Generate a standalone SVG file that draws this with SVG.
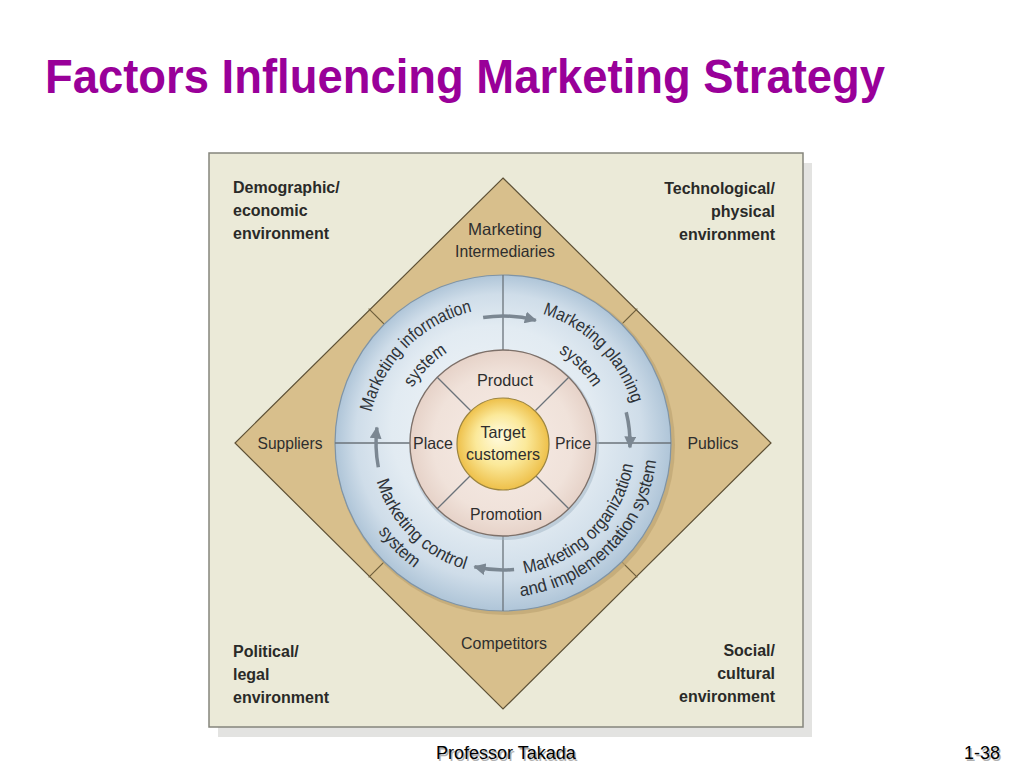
<svg xmlns="http://www.w3.org/2000/svg" width="1024" height="768" viewBox="0 0 1024 768">
<defs>
<style>
.t{font-family:"Liberation Sans",Arial,sans-serif;}
.env{font-family:"Liberation Sans",Arial,sans-serif;font-weight:bold;font-size:16px;fill:#2a2a28;}
.lbl{font-family:"Liberation Sans",Arial,sans-serif;font-size:16.5px;fill:#2e2e2e;}
.arc{font-family:"Liberation Sans",Arial,sans-serif;font-size:18px;fill:#2e3338;}
.div{stroke:#6b737a;stroke-width:1.3;fill:none;}
.tick{stroke:#6e5f3c;stroke-width:1.2;fill:none;}
.arr{stroke:#7b8792;stroke-width:3.5;fill:none;marker-end:url(#ah);}
</style>
<marker id="ah" markerUnits="userSpaceOnUse" markerWidth="14" markerHeight="12" refX="11" refY="6" orient="auto">
<path d="M0,0 L12,6 L0,12 Z" fill="#7b8792"/>
</marker>
<radialGradient id="gBlue" cx="50%" cy="50%" r="50%" fx="42%" fy="38%">
<stop offset="0%" stop-color="#eef3f7"/>
<stop offset="60%" stop-color="#e2ebf2"/>
<stop offset="85%" stop-color="#cfdde9"/>
<stop offset="100%" stop-color="#afc5d8"/>
</radialGradient>
<radialGradient id="gPink" cx="50%" cy="50%" r="50%">
<stop offset="0%" stop-color="#f7ece6"/>
<stop offset="75%" stop-color="#f0e2da"/>
<stop offset="100%" stop-color="#e6d2c8"/>
</radialGradient>
<radialGradient id="gYel" cx="50%" cy="50%" r="50%" fx="45%" fy="40%">
<stop offset="0%" stop-color="#fffbe0"/>
<stop offset="55%" stop-color="#fbe99a"/>
<stop offset="100%" stop-color="#eec04a"/>
</radialGradient>
<path id="pTL1" d="M416.22,546.41 A135,135 0 1 1 606.41,356.22"/>
<path id="pTL2" d="M434.86,524.20 A106,106 0 1 1 584.20,374.86"/>
<path id="pTR1" d="M399.59,356.22 A135,135 0 1 1 589.78,546.41"/>
<path id="pTR2" d="M421.80,374.86 A106,106 0 1 1 571.14,524.20"/>
<path id="pBR1" d="M401.89,527.85 A132,132 0 1 0 587.85,341.89"/>
<path id="pBR2" d="M385.04,541.99 A154,154 0 1 0 601.99,325.04"/>
<path id="pBL1" d="M418.15,341.89 A132,132 0 1 0 604.11,527.85"/>
<path id="pBL2" d="M404.65,325.80 A153,153 0 1 0 620.20,541.35"/>
</defs>

<rect width="1024" height="768" fill="#ffffff"/>

<text class="t" x="45" y="93" font-size="48" font-weight="bold" fill="#990099" textLength="840" lengthAdjust="spacingAndGlyphs">Factors Influencing Marketing Strategy</text>

<g id="frame">
<rect x="218" y="163" width="594" height="574" fill="#e3e3e1"/>
<rect x="209" y="153" width="594" height="574" fill="#ebead8" stroke="#85857c" stroke-width="1.5"/>
</g>

<g id="diamond">
<polygon points="503,178 771,443 503,709 235,443" fill="#d8bf8c" stroke="#5e5136" stroke-width="1.2"/>
<line class="tick" x1="621.8" y1="561.8" x2="637.35" y2="577.35"/>
<line class="tick" x1="384.2" y1="561.8" x2="368.65" y2="577.35"/>
<line class="tick" x1="384.2" y1="324.2" x2="368.65" y2="308.65"/>
<line class="tick" x1="621.8" y1="324.2" x2="637.35" y2="308.65"/>
</g>

<g id="env-demographic">
<text class="env" x="233" y="193">Demographic/</text>
<text class="env" x="233" y="216">economic</text>
<text class="env" x="233" y="239">environment</text>
</g>
<g id="env-technological">
<text class="env" x="775" y="194" text-anchor="end">Technological/</text>
<text class="env" x="775" y="217" text-anchor="end">physical</text>
<text class="env" x="775" y="240" text-anchor="end">environment</text>
</g>
<g id="env-political">
<text class="env" x="233" y="657">Political/</text>
<text class="env" x="233" y="680">legal</text>
<text class="env" x="233" y="703">environment</text>
</g>
<g id="env-social">
<text class="env" x="775" y="656" text-anchor="end">Social/</text>
<text class="env" x="775" y="679" text-anchor="end">cultural</text>
<text class="env" x="775" y="702" text-anchor="end">environment</text>
</g>

<g id="intermediaries">
<text class="lbl" x="505" y="235" text-anchor="middle" textLength="74" lengthAdjust="spacingAndGlyphs">Marketing</text>
<text class="lbl" x="505" y="257" text-anchor="middle" textLength="100" lengthAdjust="spacingAndGlyphs">Intermediaries</text>
</g>
<g id="suppliers"><text class="lbl" x="290" y="449" text-anchor="middle" textLength="65" lengthAdjust="spacingAndGlyphs">Suppliers</text></g>
<g id="publics"><text class="lbl" x="713" y="449" text-anchor="middle" textLength="51" lengthAdjust="spacingAndGlyphs">Publics</text></g>
<g id="competitors"><text class="lbl" x="504" y="649" text-anchor="middle" textLength="86" lengthAdjust="spacingAndGlyphs">Competitors</text></g>

<g id="systems-ring">
<circle cx="505" cy="445" r="170" fill="#bfa574" opacity="0.7"/>
<circle cx="503" cy="443" r="168" fill="url(#gBlue)" stroke="#7f94a6" stroke-width="1.2"/>
<line class="div" x1="503" y1="275" x2="503" y2="350"/>
<line class="div" x1="503" y1="536" x2="503" y2="611"/>
<line class="div" x1="335" y1="443" x2="410" y2="443"/>
<line class="div" x1="596" y1="443" x2="671" y2="443"/>
</g>

<g id="info-system">
<text class="arc"><textPath href="#pTL1" startOffset="50%" text-anchor="middle" textLength="150" lengthAdjust="spacingAndGlyphs">Marketing information</textPath></text>
<text class="arc"><textPath href="#pTL2" startOffset="50%" text-anchor="middle" textLength="50" lengthAdjust="spacingAndGlyphs">system</textPath></text>
</g>
<g id="planning-system">
<text class="arc"><textPath href="#pTR1" startOffset="50%" text-anchor="middle" textLength="132" lengthAdjust="spacingAndGlyphs">Marketing planning</textPath></text>
<text class="arc"><textPath href="#pTR2" startOffset="50%" text-anchor="middle" textLength="50" lengthAdjust="spacingAndGlyphs">system</textPath></text>
</g>
<g id="organization-system">
<text class="arc"><textPath href="#pBR1" startOffset="50%" text-anchor="middle" textLength="164" lengthAdjust="spacingAndGlyphs">Marketing organization</textPath></text>
<text class="arc"><textPath href="#pBR2" startOffset="50%" text-anchor="middle" textLength="207" lengthAdjust="spacingAndGlyphs">and implementation system</textPath></text>
</g>
<g id="control-system">
<text class="arc"><textPath href="#pBL1" startOffset="50%" text-anchor="middle" textLength="130" lengthAdjust="spacingAndGlyphs">Marketing control</textPath></text>
<text class="arc"><textPath href="#pBL2" startOffset="50%" text-anchor="middle" textLength="52" lengthAdjust="spacingAndGlyphs">system</textPath></text>
</g>

<g id="connectors">
<path class="arr" d="M483.13,317.56 A127,127 0 0 1 535.87,320.33"/>
<path class="arr" d="M626.22,412.28 A127,127 0 0 1 629.92,447.43"/>
<path class="arr" d="M514.07,569.51 A127,127 0 0 1 474.43,566.75"/>
<path class="arr" d="M378.34,467.23 A127,127 0 0 1 376.95,427.52"/>
</g>

<g id="mix-ring">
<circle cx="504" cy="445" r="95" fill="#9fb3c4" opacity="0.5"/>
<circle cx="503" cy="443" r="93" fill="url(#gPink)" stroke="#7d7069" stroke-width="1.3"/>
<line class="div" x1="535.5" y1="475.5" x2="568.8" y2="508.8"/>
<line class="div" x1="470.5" y1="475.5" x2="437.2" y2="508.8"/>
<line class="div" x1="470.5" y1="410.5" x2="437.2" y2="377.2"/>
<line class="div" x1="535.5" y1="410.5" x2="568.8" y2="377.2"/>
</g>
<g id="product"><text class="lbl" x="505" y="386" text-anchor="middle" textLength="56" lengthAdjust="spacingAndGlyphs">Product</text></g>
<g id="place"><text class="lbl" x="433" y="449" text-anchor="middle" textLength="40" lengthAdjust="spacingAndGlyphs">Place</text></g>
<g id="price"><text class="lbl" x="573" y="449" text-anchor="middle" textLength="36" lengthAdjust="spacingAndGlyphs">Price</text></g>
<g id="promotion"><text class="lbl" x="506" y="520" text-anchor="middle" textLength="72" lengthAdjust="spacingAndGlyphs">Promotion</text></g>

<g id="target-customers">
<circle cx="503" cy="444" r="46" fill="url(#gYel)" stroke="#9c8540" stroke-width="1.2"/>
<text class="lbl" x="503" y="438" text-anchor="middle" textLength="45" lengthAdjust="spacingAndGlyphs">Target</text>
<text class="lbl" x="503" y="460" text-anchor="middle" textLength="74" lengthAdjust="spacingAndGlyphs">customers</text>
</g>

<g id="footer">
<text class="t" x="437.5" y="760.5" font-size="18" fill="#b0b0b0">Professor Takada</text>
<text class="t" x="436" y="759" font-size="18" fill="#000">Professor Takada</text>
<text class="t" x="1001.5" y="760.5" font-size="18" fill="#b0b0b0" text-anchor="end">1-38</text>
<text class="t" x="1000" y="759" font-size="18" fill="#000" text-anchor="end">1-38</text>
</g>
</svg>
